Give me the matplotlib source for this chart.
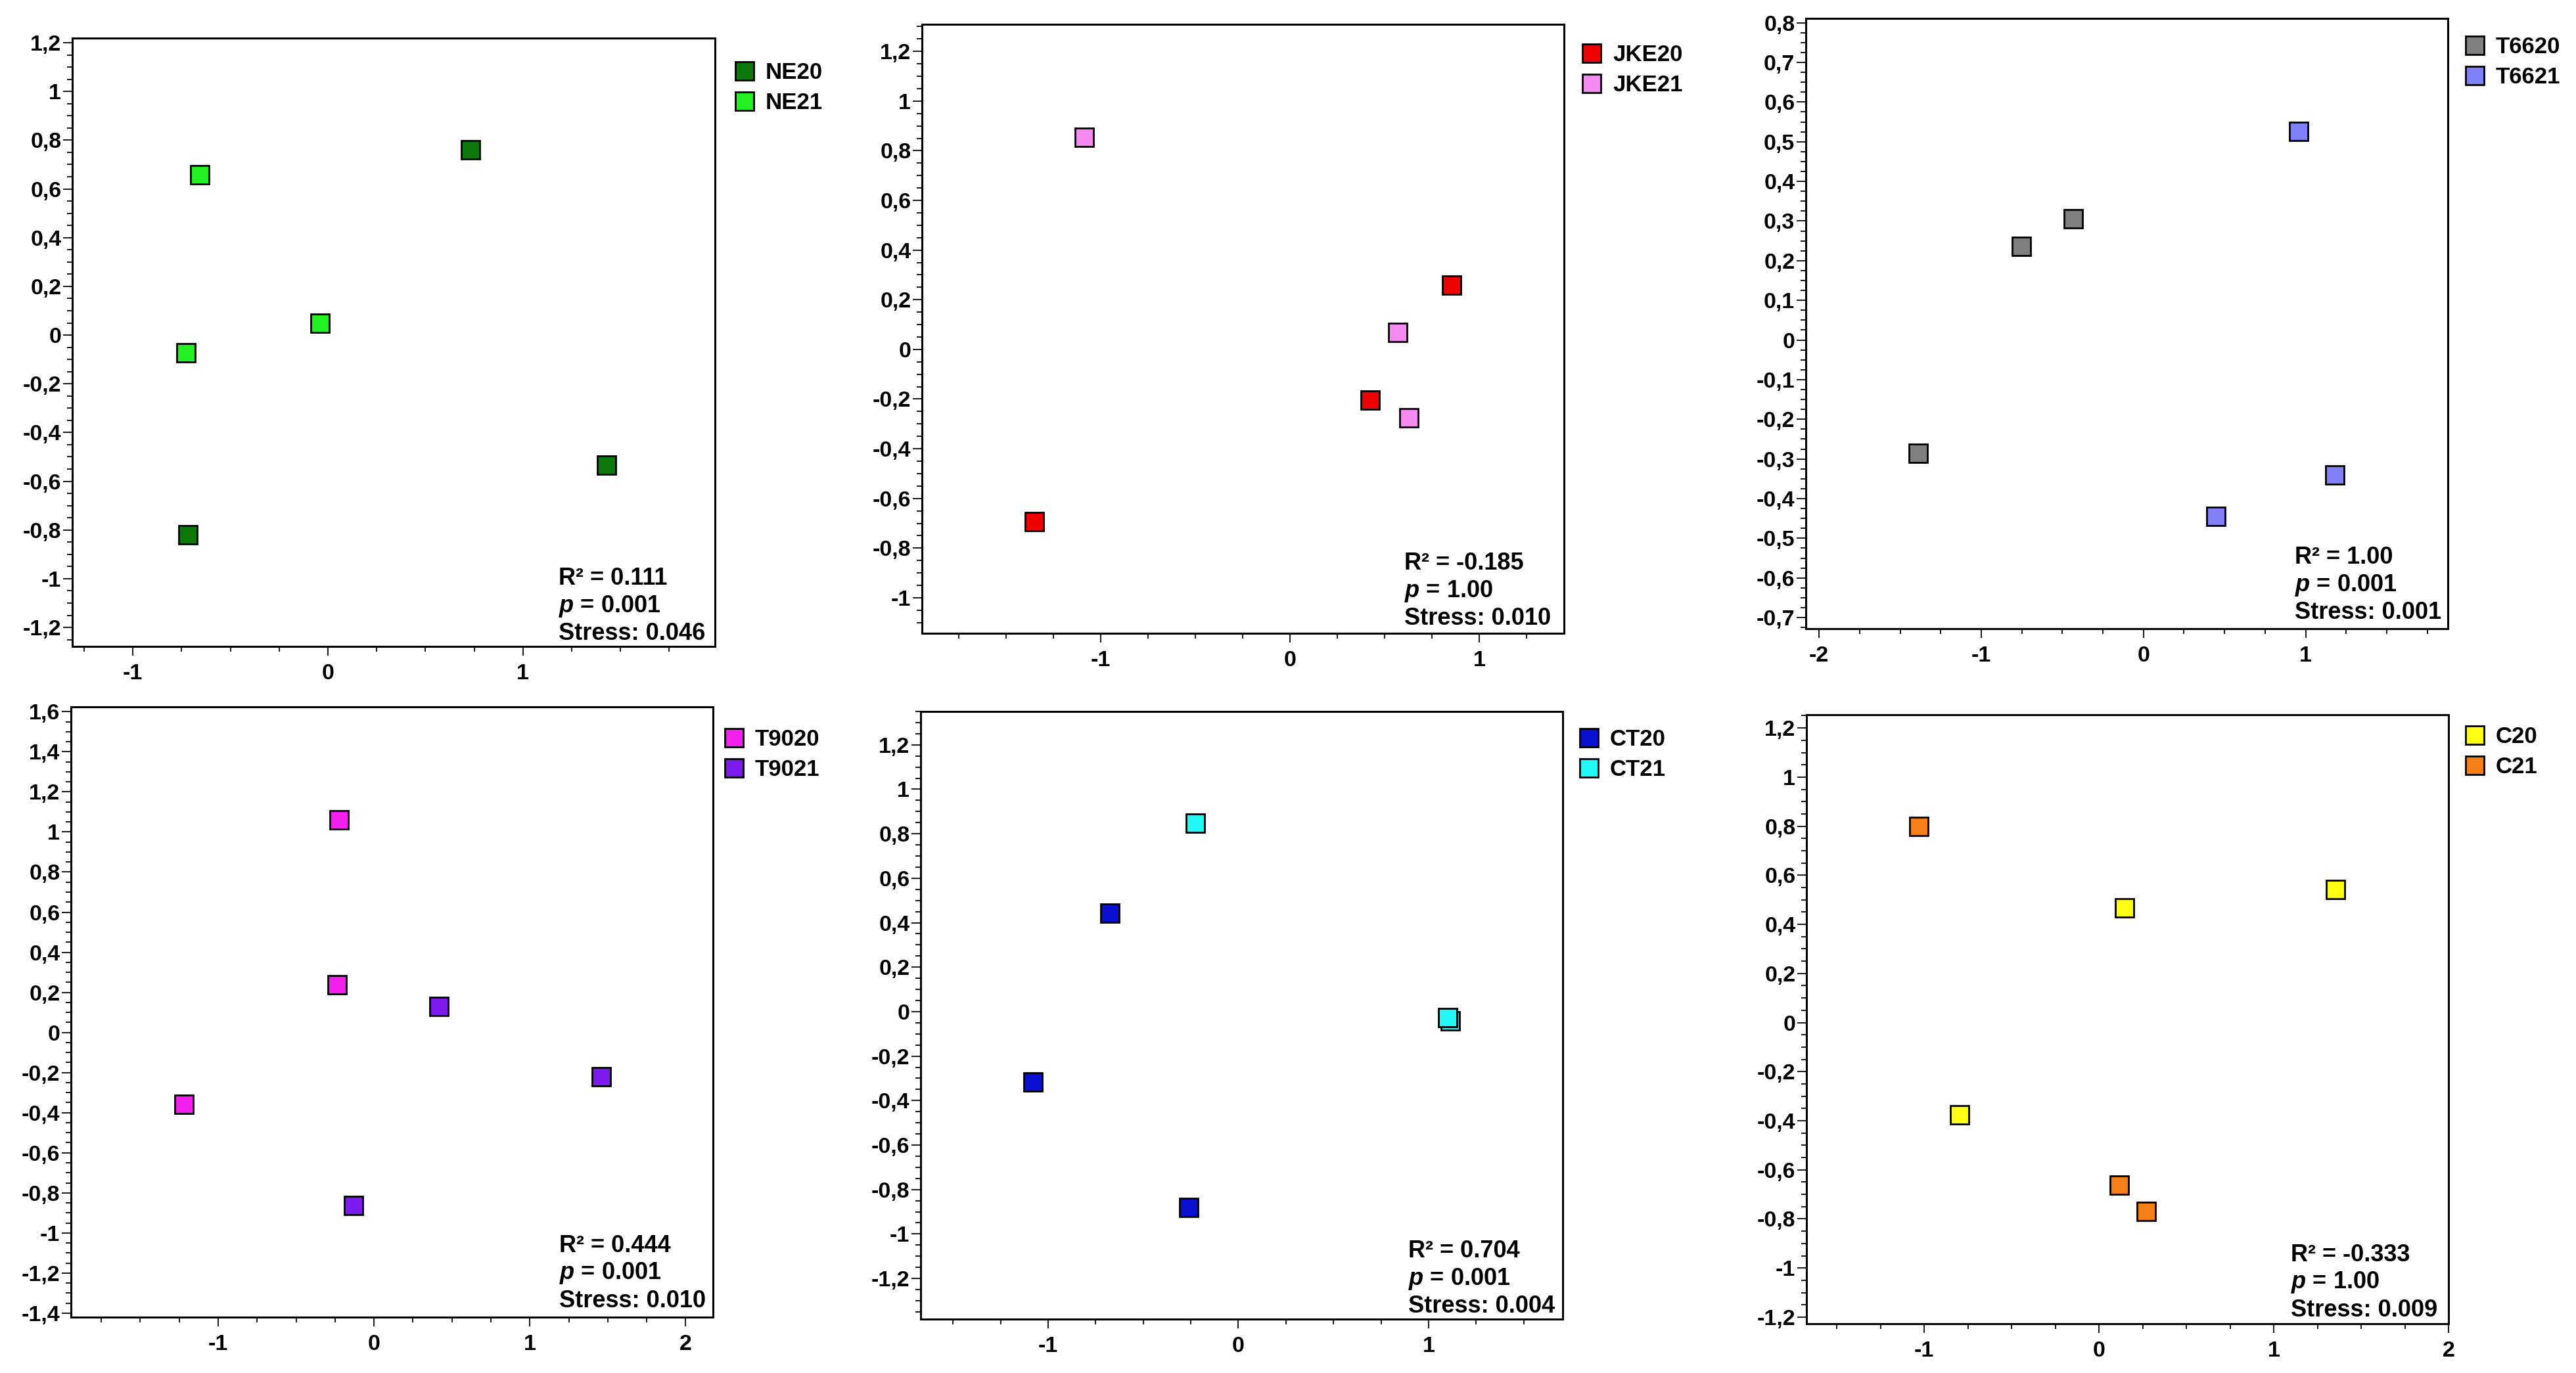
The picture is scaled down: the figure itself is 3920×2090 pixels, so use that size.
import matplotlib
matplotlib.use("Agg")
import matplotlib.pyplot as plt
from matplotlib.ticker import MultipleLocator, FuncFormatter

plt.rcParams['font.family'] = ['Liberation Sans', 'DejaVu Sans']
plt.rcParams['font.weight'] = 'bold'
plt.rcParams['mathtext.fontset'] = 'custom'
plt.rcParams['mathtext.it'] = 'Liberation Sans:italic:bold'
plt.rcParams['mathtext.rm'] = 'Liberation Sans:bold'

# ---------------- data ----------------
labels = [("NE20", "NE21"), ("JKE20", "JKE21"), ("T6620", "T6621"),
          ("T9020", "T9021"), ("CT20", "CT21"), ("C20", "C21")]

ne20_x = [0.730, 1.428, -0.718]
ne20_y = [0.760, -0.535, -0.820]
ne21_x = [-0.656, -0.039, -0.727]
ne21_y = [0.658, 0.049, -0.072]

jke20_x = [0.855, 0.423, -1.350]
jke20_y = [0.258, -0.203, -0.693]
jke21_x = [-1.088, 0.567, 0.627]
jke21_y = [0.855, 0.069, -0.275]

t6620_x = [-0.751, -0.433, -1.389]
t6620_y = [0.236, 0.305, -0.286]
t6621_x = [0.959, 1.181, 0.447]
t6621_y = [0.526, -0.341, -0.444]

t9020_x = [-0.224, -0.238, -1.220]
t9020_y = [1.059, 0.239, -0.357]
t9021_x = [0.416, 1.458, -0.133]
t9021_y = [0.129, -0.221, -0.862]

ct20_x = [-0.676, -1.080, -0.261]
ct20_y = [0.443, -0.315, -0.880]
ct21_x = [1.115, -0.226, 1.100]
ct21_y = [-0.041, 0.848, -0.026]

c20_x = [0.146, 1.354, -0.797]
c20_y = [0.466, 0.541, -0.377]
c21_x = [-1.032, 0.117, 0.269]
c21_y = [0.798, -0.661, -0.770]

r2_values = ["0.111", "-0.185", "1.00", "0.444", "0.704", "-0.333"]
p_values = ["0.001", "1.00", "0.001", "0.001", "0.001", "1.00"]
stress_values = ["0.046", "0.010", "0.001", "0.010", "0.004", "0.009"]

series = [
    ((ne20_x, ne20_y), (ne21_x, ne21_y)),
    ((jke20_x, jke20_y), (jke21_x, jke21_y)),
    ((t6620_x, t6620_y), (t6621_x, t6621_y)),
    ((t9020_x, t9020_y), (t9021_x, t9021_y)),
    ((ct20_x, ct20_y), (ct21_x, ct21_y)),
    ((c20_x, c20_y), (c21_x, c21_y)),
]

# ---------------- styles / layout ----------------
colors = [("#0c780c", "#22f022"), ("#ee0000", "#f58af0"), ("#808080", "#8080f8"),
          ("#f51ff0", "#7d1aee"), ("#0a10d0", "#22f8f8"), ("#ffff14", "#f57f17")]

# axes boxes in pixels: left, right, top, bottom
boxes = [(110, 1088, 58, 984), (1403, 2380, 37, 964), (2748, 3725, 28, 957),
         (108, 1085, 1076, 2005), (1401, 2378, 1083, 2008), (2749, 3726, 1088, 2015)]
xlims = [(-1.311, 1.985), (-1.945, 1.447), (-2.082, 1.877),
         (-1.944, 2.175), (-1.67, 1.705), (-1.674, 2.0)]
ylims = [(-1.278, 1.219), (-1.143, 1.309), (-0.728, 0.811),
         (-1.42, 1.624), (-1.383, 1.35), (-1.227, 1.254)]
ymajor = [0.2, 0.2, 0.1, 0.2, 0.2, 0.2]
yminor = [0.05, 0.05, 0.025, 0.05, 0.05, 0.05]
# legend first-square center offset (px) from axes top-right corner
leg_off = [(45, 47), (42, 41), (41, 38), (32, 44), (40, 37), (40, 28)]
# stats text offsets (px) from axes bottom-right corner (right gap, baseline height)
txt_off = [(15, 9), (20, 12), (10, 14), (11, 15), (12, 9), (17, 11)]

W, H = 3920, 2090
DPI = 100
fig = plt.figure(figsize=(W / DPI, H / DPI), dpi=DPI)
fig.patch.set_facecolor("white")


def fmt(v, pos):
    v = round(v, 6)
    s = f"{v:.3f}".rstrip('0').rstrip('.')
    if s in ("-0", ""):
        s = "0"
    return s.replace('.', ',')


TICK_FS = 24.5
LEG_FS = 25
TXT_FS = 26
MS = 19.5
MEW = 2.0

for i in range(6):
    L, R, T, B = boxes[i]
    ax = fig.add_axes([L / W, 1 - B / H, (R - L) / W, (B - T) / H])
    handles = []
    for j in range(2):
        xs, ys = series[i][j]
        h, = ax.plot(xs, ys, linestyle='none', marker='s', markersize=MS,
                     markerfacecolor=colors[i][j], markeredgecolor='black',
                     markeredgewidth=MEW, label=labels[i][j], zorder=3 + j)
        handles.append(h)
    ax.set_xlim(*xlims[i])
    ax.set_ylim(*ylims[i])
    ax.xaxis.set_major_locator(MultipleLocator(1))
    ax.xaxis.set_minor_locator(MultipleLocator(0.25))
    ax.yaxis.set_major_locator(MultipleLocator(ymajor[i]))
    ax.yaxis.set_minor_locator(MultipleLocator(yminor[i]))
    ax.xaxis.set_major_formatter(FuncFormatter(fmt))
    ax.yaxis.set_major_formatter(FuncFormatter(fmt))
    for sp in ax.spines.values():
        sp.set_linewidth(2.2)
        sp.set_color('black')
    ax.tick_params(axis='y', which='major', direction='out', length=10, width=1.5,
                   color='#222222', pad=2, labelsize=TICK_FS, left=True, right=False)
    ax.tick_params(axis='y', which='minor', direction='out', length=5.5, width=1.5,
                   color='#222222', left=True, right=False)
    ax.tick_params(axis='x', which='major', direction='out', length=10, width=1.5,
                   color='#222222', pad=9, labelsize=TICK_FS, bottom=True, top=False)
    ax.tick_params(axis='x', which='minor', direction='out', length=5.5, width=1.5,
                   color='#222222', bottom=True, top=False)
    for lab in ax.get_xticklabels() + ax.get_yticklabels():
        lab.set_fontweight('bold')

    # legend
    axw = R - L
    axh = B - T
    cx, cy = leg_off[i]
    fs_px = LEG_FS * DPI / 72
    hl = 1.0
    x_anchor = 1 + (cx - hl * fs_px / 2) / axw
    row_h = fs_px * 1.16
    y_anchor = 1 - (cy + 9 - row_h / 2) / axh
    ax.legend(handles=handles, loc='upper left', bbox_to_anchor=(x_anchor, y_anchor),
              frameon=False, borderpad=0, borderaxespad=0, handlelength=hl,
              handletextpad=0.42, labelspacing=0.38,
              prop={'size': LEG_FS, 'weight': 'bold'}, numpoints=1)

    # stats text
    rx, by = txt_off[i]
    txt = "R\u00b2 = " + r2_values[i] + "\n$p$ = " + p_values[i] + "\nStress: " + stress_values[i]
    ax.annotate(txt, xy=(1, 0), xycoords='axes fraction',
                xytext=(-rx, by - 7.5), textcoords='offset pixels',
                ha='right', va='bottom', multialignment='left',
                fontsize=TXT_FS, fontweight='bold', linespacing=1.2, zorder=5)

fig.savefig("out.png", dpi=DPI, facecolor="white")
